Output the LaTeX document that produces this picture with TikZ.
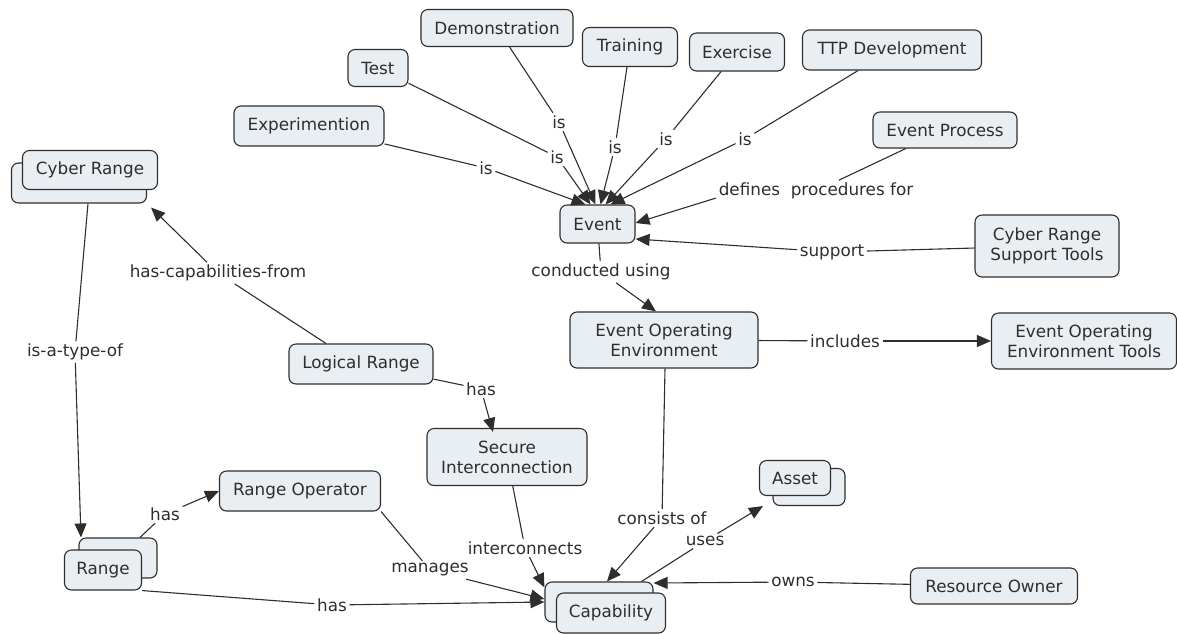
\documentclass[tikz,border=0pt]{standalone}
\usepackage{fontspec}
\setmainfont{DejaVu Sans}
\usetikzlibrary{arrows.meta}
\definecolor{boxfill}{HTML}{E9EEF3}
\definecolor{ink}{HTML}{2E2E2E}
\begin{document}
\begin{tikzpicture}[x=1pt,y=-1pt,
  concept/.style={draw=ink, fill=boxfill, rounded corners=7pt, line width=1.1pt, text=ink,
    font=\fontsize{16.8}{20}\selectfont, inner sep=0pt, align=center},
  lbl/.style={text=ink, font=\fontsize{16.8}{20}\selectfont, inner sep=2.5pt},
  link/.style={draw=ink, line width=1.1pt},
  arr/.style={link, -{Triangle[length=14pt,width=12pt]}}]
\useasboundingbox (0,0) rectangle (1177,633);

% concepts
\node[concept, minimum width=152pt, minimum height=37pt] (demo) at (497,28) {Demonstration};
\node[concept, minimum width=60pt, minimum height=37pt] (test) at (378,68) {Test};
\node[concept, minimum width=150pt, minimum height=40pt] (exp) at (309,126) {Experimention};
\node[concept, minimum width=95pt, minimum height=39pt] (trn) at (630,47) {Training};
\node[concept, minimum width=95pt, minimum height=38pt] (exe) at (737,52) {Exercise};
\node[concept, minimum width=179pt, minimum height=40pt] (ttp) at (892,50) {TTP Development};
\node[concept, minimum width=144pt, minimum height=36pt] (ep) at (945,130) {Event Process};
\node[concept, minimum width=75pt, minimum height=38pt] (ev) at (597.5,224) {Event};
\node[concept, minimum width=144pt, minimum height=62pt] (crst) at (1047,246) {Cyber Range\\Support Tools};
\node[concept, minimum width=188pt, minimum height=56pt] (eoe) at (664,340) {Event Operating\\Environment};
\node[concept, minimum width=185pt, minimum height=56pt] (eoet) at (1084,341) {Event Operating\\Environment Tools};
\node[concept, minimum width=135pt, minimum height=40pt] (crb) at (79,183) {};
\node[concept, minimum width=135pt, minimum height=39pt] (cr) at (90,170) {Cyber Range};
\node[concept, minimum width=144pt, minimum height=40pt] (lr) at (361,364) {Logical Range};
\node[concept, minimum width=160pt, minimum height=57pt] (si) at (507,457) {Secure\\Interconnection};
\node[concept, minimum width=161pt, minimum height=40pt] (ro) at (300,491) {Range Operator};
\node[concept, minimum width=78pt, minimum height=40pt] (rgb) at (118,558) {};
\node[concept, minimum width=77pt, minimum height=40pt] (rg) at (103,570) {Range};
\node[concept, minimum width=72pt, minimum height=37pt] (asb) at (809,487) {};
\node[concept, minimum width=71pt, minimum height=35pt] (as) at (795,478) {Asset};
\node[concept, minimum width=108pt, minimum height=40pt] (capb) at (599,602) {};
\node[concept, minimum width=109pt, minimum height=40pt] (cap) at (611,613) {Capability};
\node[concept, minimum width=167pt, minimum height=36pt] (own) at (994,586) {Resource Owner};

% link labels
\node[lbl] (is1) at (486,168) {is};
\node[lbl] (is2) at (557,157) {is};
\node[lbl] (is3) at (559,122) {is};
\node[lbl] (is4) at (615,147) {is};
\node[lbl] (is5) at (666,139) {is};
\node[lbl] (is6) at (745,139) {is};
\node[lbl] (dp) at (816,191) {defines\ \ procedures for};
\node[lbl] (sup) at (832,252) {support};
\node[lbl] (cu) at (601,272) {conducted using};
\node[lbl] (inc) at (845,341) {includes};
\node[lbl] (iat) at (75,352) {is-a-type-of};
\node[lbl] (hcf) at (218,273) {has-capabilities-from};
\node[lbl] (has1) at (481,389) {has};
\node[lbl] (has2) at (165,514) {has};
\node[lbl] (has3) at (332,605) {has};
\node[lbl] (mg) at (430,570) {manages};
\node[lbl] (ic) at (525,548) {interconnects};
\node[lbl] (co) at (662,518) {consists of};
\node[lbl] (us) at (705,541) {uses};
\node[lbl] (ow) at (793,582) {owns};

% connectors
\draw[link] (exp) -- (is1);  \draw[arr] (is1) -- ([xshift=-12pt]ev.north);
\draw[link] (test) -- (is2); \draw[arr] (is2) -- ([xshift=-7pt]ev.north);
\draw[link] (demo) -- (is3); \draw[arr] (is3) -- ([xshift=-2pt]ev.north);
\draw[link] (trn) -- (is4);  \draw[arr] (is4) -- ([xshift=3pt]ev.north);
\draw[link] (exe) -- (is5);  \draw[arr] (is5) -- ([xshift=8pt]ev.north);
\draw[link] (ttp) -- (is6);  \draw[arr] (is6) -- ([xshift=13pt]ev.north);
\draw[link] (ep) -- (dp);    \draw[arr] ([yshift=-7pt]dp.west) -- ([yshift=1pt]ev.east);
\draw[link] (crst) -- (sup); \draw[arr] (sup) -- ([yshift=-15pt]ev.east);
\draw[link] (ev) -- (cu);    \draw[arr] (cu) -- ([xshift=-8pt]eoe.north);
\draw[link] (eoe) -- (inc);  \draw[arr] (inc) -- (eoet);
\draw[link] ([xshift=9pt]crb.south) -- (iat); \draw[arr] (iat) -- ([xshift=-37pt]rgb.north);
\draw[link] ([xshift=-35pt]lr.north) -- (hcf); \draw[arr] (hcf) -- ([shift={(4pt,-4pt)}]crb.south east);
\draw[link] (lr) -- (has1);  \draw[arr] (has1) -- ([shift={(-14pt,-4pt)}]si.north);
\draw[link] (rgb) -- (has2); \draw[arr] (has2) -- (ro.west);
\draw[link] (rg.south east) -- (has3); \draw[arr] (has3) -- (capb.west);
\draw[link] (ro.south east) -- (mg); \draw[arr] (mg) -- ([yshift=3pt]capb.west);
\draw[link] (si) -- (ic);    \draw[arr] (ic) -- ([yshift=-6pt]capb.north west);
\draw[link] ([xshift=1pt]eoe.south) -- (co);   \draw[arr] (co) -- ([xshift=8pt]capb.north);
\draw[link] ([xshift=-12pt]capb.north east) -- (us); \draw[arr] (us) -- ([shift={(4pt,-10pt)}]as.south west);
\draw[link] (own) -- (ow);   \draw[arr] (ow) -- ([yshift=19pt]capb.east);
\end{tikzpicture}
\end{document}
